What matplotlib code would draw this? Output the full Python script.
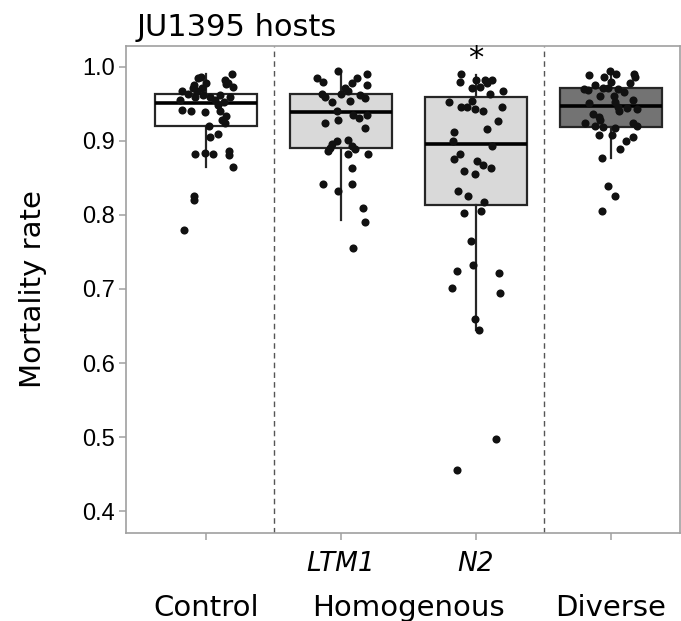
import matplotlib
matplotlib.use('Agg')
import matplotlib.pyplot as plt

# values
groups = ['Control', 'LTM1', 'N2', 'Diverse']
tick_labels = ['', 'LTM1', 'N2', '']
group_labels = ['Control', 'Homogenous', 'Diverse']
group_label_pos = [0, 1.5, 3]

control = [0.9905, 0.985, 0.982, 0.979, 0.973, 0.978, 0.976, 0.971, 0.968, 0.967,
	0.964, 0.962, 0.960, 0.960, 0.955, 0.956, 0.953, 0.949, 0.942, 0.940,
	0.939, 0.940, 0.934, 0.928, 0.924, 0.920, 0.909, 0.905, 0.883, 0.884,
	0.882, 0.886, 0.881, 0.865, 0.825, 0.820, 0.780,
	0.987, 0.977, 0.971, 0.962, 0.959]
ltm1 = [0.995, 0.990, 0.985, 0.980, 0.985, 0.979, 0.976, 0.971, 0.968, 0.964,
	0.964, 0.960, 0.962, 0.958, 0.953, 0.954, 0.940, 0.935, 0.931, 0.935,
	0.924, 0.928, 0.918, 0.900, 0.896, 0.891, 0.886, 0.902, 0.893, 0.889,
	0.882, 0.882, 0.864, 0.842, 0.842, 0.832, 0.809, 0.791, 0.755]
n2 = [0.990, 0.980, 0.982, 0.982, 0.982, 0.973, 0.978, 0.964, 0.971, 0.968,
	0.953, 0.954, 0.946, 0.946, 0.943, 0.941, 0.946, 0.927, 0.916, 0.912,
	0.900, 0.893, 0.883, 0.876, 0.873, 0.868, 0.864, 0.859, 0.855, 0.832,
	0.825, 0.818, 0.806, 0.803, 0.765, 0.732, 0.724, 0.722, 0.702, 0.694,
	0.660, 0.645, 0.497, 0.456]
diverse = [0.989, 0.994, 0.991, 0.986, 0.980, 0.991, 0.987, 0.978, 0.970, 0.969,
	0.976, 0.972, 0.971, 0.970, 0.966, 0.961, 0.961, 0.956, 0.951, 0.953,
	0.946, 0.944, 0.943, 0.936, 0.932, 0.928, 0.940, 0.924, 0.920, 0.919,
	0.918, 0.924, 0.920, 0.908, 0.908, 0.900, 0.905, 0.889, 0.877, 0.839,
	0.826, 0.805]

# horizontal jitter of each point, as seen in the picture
control_dx = [0.19, -0.06, 0.14, 0.16, 0.20, 0.0, -0.09, -0.03, -0.07, -0.18,
	-0.13, -0.02, 0.03, 0.18, -0.19, 0.07, 0.13, 0.09, -0.18, -0.11,
	-0.01, 0.10, 0.15, 0.12, 0.14, 0.02, 0.09, 0.03, -0.08, -0.01,
	0.05, 0.17, 0.17, 0.20, -0.09, -0.09, -0.16,
	-0.04, 0.15, -0.10, 0.10, -0.08]
ltm1_dx = [-0.02, 0.19, -0.18, -0.13, 0.12, 0.08, 0.19, 0.03, 0.05, -0.14,
	0.0, -0.12, 0.14, 0.18, -0.07, 0.07, -0.03, 0.09, 0.13, 0.19,
	-0.12, -0.02, 0.18, -0.03, -0.07, -0.08, -0.10, 0.05, 0.08, 0.10,
	0.05, 0.20, 0.08, -0.13, 0.08, -0.02, 0.16, 0.18, 0.09]
n2_dx = [-0.11, -0.12, 0.0, 0.07, 0.12, 0.03, 0.08, 0.10, -0.03, 0.20,
	-0.20, -0.03, -0.11, -0.07, -0.01, 0.05, 0.19, 0.16, 0.08, -0.16,
	-0.17, 0.12, -0.12, -0.16, 0.01, 0.05, 0.11, -0.09, -0.01, -0.13,
	-0.06, 0.06, 0.04, -0.09, -0.04, -0.02, -0.14, 0.17, -0.18, 0.18,
	-0.01, 0.02, 0.15, -0.14]
diverse_dx = [-0.16, -0.01, 0.04, -0.05, 0.0, 0.17, 0.18, 0.14, -0.20, -0.17,
	-0.12, -0.06, -0.02, 0.05, 0.10, -0.08, 0.02, 0.16, -0.16, 0.03,
	0.05, 0.12, 0.19, -0.13, -0.09, -0.08, 0.06, -0.19, -0.12, -0.06,
	0.03, 0.16, 0.19, -0.09, 0.01, 0.11, 0.16, 0.07, -0.07, -0.02,
	0.03, -0.07]

# box statistics
box_q1 = [0.920, 0.890, 0.813, 0.919]
box_med = [0.951, 0.939, 0.896, 0.947]
box_q3 = [0.964, 0.964, 0.959, 0.972]
whisk_lo = [0.865, 0.793, 0.645, 0.877]
whisk_hi = [0.991, 0.995, 0.989, 0.994]

box_colors = ['white', '#d9d9d9', '#d9d9d9', '#737373']


def plot_res(outname='out.png'):
	fig = plt.figure(figsize=(6.81, 6.21), dpi=100)
	ax = fig.add_axes([0.185, 0.1417, 0.8135, 0.7843])

	stats = []
	for i in range(len(groups)):
		stats.append(dict(q1=box_q1[i], med=box_med[i], q3=box_q3[i],
			whislo=whisk_lo[i], whishi=whisk_hi[i], fliers=[]))

	bp = ax.bxp(stats, positions=range(len(groups)), widths=0.755,
		showcaps=False, showfliers=False, patch_artist=True,
		boxprops=dict(linewidth=1.6, edgecolor='#262626'),
		medianprops=dict(color='black', linewidth=2.6),
		whiskerprops=dict(color='#262626', linewidth=1.6))
	for patch, c in zip(bp['boxes'], box_colors):
		patch.set_facecolor(c)

	series = [(control, control_dx), (ltm1, ltm1_dx), (n2, n2_dx), (diverse, diverse_dx)]
	for i, (vals, dx) in enumerate(series):
		ax.scatter([i + d for d in dx], vals, s=34, color='#111111',
			linewidths=0, zorder=3)

	# separators between treatment groups
	for x in (0.5, 2.5):
		ax.axvline(x, color='#555555', linestyle=(0, (4, 3)), linewidth=1.0)

	# significance mark
	ax.text(2, 1.012, '*', ha='center', va='center', fontsize=22)

	ax.set_xlim(-0.593, 3.511)
	ax.set_ylim(0.3703, 1.0284)
	ax.set_yticks([0.4, 0.5, 0.6, 0.7, 0.8, 0.9, 1.0])
	ax.set_yticklabels(['0.4', '0.5', '0.6', '0.7', '0.8', '0.9', '1.0'],
		family='Liberation Sans', fontsize=17)
	ax.set_xticks(range(len(groups)))
	ax.set_xticklabels(tick_labels, fontsize=19, style='italic')

	for side in ax.spines.values():
		side.set_color('#a0a0a0')
		side.set_linewidth(1.2)
	ax.tick_params(axis='both', color='#a0a0a0', length=5, width=1.1)
	ax.tick_params(axis='x', pad=8)
	ax.tick_params(axis='y', pad=3)

	for lab, x in zip(group_labels, group_label_pos):
		ax.text(x, -0.154, lab, ha='center', va='center', fontsize=21,
			transform=ax.get_xaxis_transform())

	ax.set_ylabel('Mortality rate', fontsize=21)
	ax.yaxis.set_label_coords(-0.142, 0.5)

	fig.text(137 / 681, 1 - 36 / 621, 'JU1395 hosts', fontsize=22, va='baseline')

	fig.savefig(outname, dpi=100)


def main():
	plot_res()


if __name__ == "__main__":
	main()
